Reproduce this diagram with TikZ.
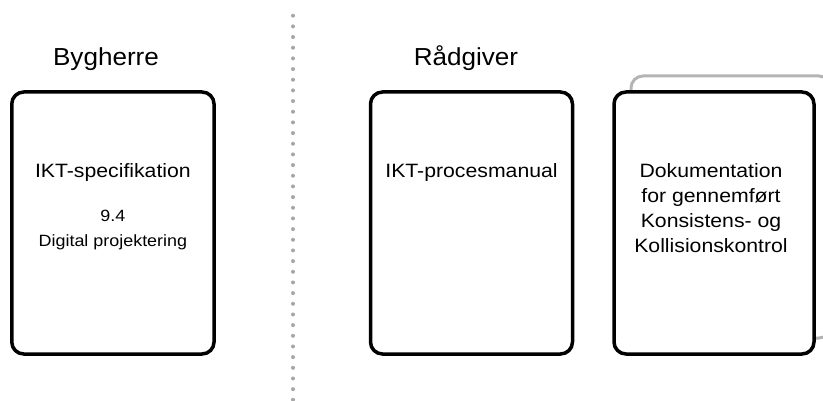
\documentclass[tikz,border=0pt]{standalone}
\usepackage{fontspec}
\setmainfont{Liberation Sans}
\newfontfamily\titlefont[FakeStretch=1.06]{Liberation Sans}
\newfontfamily\boxfont[FakeStretch=1.1]{Liberation Sans}
\definecolor{backline}{HTML}{B4B4B4}
\definecolor{dotgray}{HTML}{A6A6A6}
\tikzset{
  docbox/.style={draw=black, line width=3.5pt, rounded corners=12pt, fill=white,
    inner sep=0pt, minimum height=262pt},
  backbox/.style={draw=backline, line width=3pt, rounded corners=12pt,
    inner sep=0pt, minimum width=200pt, minimum height=262pt},
  divider/.style={draw=dotgray, line width=4pt, line cap=round,
    dash pattern=on 0pt off 10.67pt},
  heading/.style={anchor=base, inner sep=0pt,
    font=\titlefont\fontsize{24.6}{28}\selectfont},
  boxtext/.style={anchor=base, inner sep=0pt, align=center,
    font=\boxfont\fontsize{19.3}{25.3}\selectfont},
  smalltext/.style={anchor=base, inner sep=0pt, align=center,
    font=\boxfont\fontsize{16.3}{25.5}\selectfont},
}
\begin{document}
\begin{tikzpicture}[x=1pt, y=-1pt]
  \useasboundingbox (0,0) rectangle (823,401);

  % dotted divider between the two parties
  \coordinate (divtop) at (293,15.7);
  \coordinate (divbot) at (293,401);
  \draw[divider] (divtop) -- (divbot);

  % headings
  \node[heading] (bygherre) at (106,66) {Bygherre};
  \node[heading] (raadgiver) at (466,66) {Rådgiver};

  % stacked sheet behind the documentation box
  \begin{scope}
    \clip (0,0) rectangle (823,401);
    \node[backbox] (stack) at (731,207) {};
  \end{scope}

  % document boxes
  \node[docbox, minimum width=202.3pt] (spec) at (112.9,223) {};
  \node[docbox, minimum width=202pt] (manual) at (471.5,223) {};
  \node[docbox, minimum width=200pt] (doc) at (714,223) {};

  % box contents (multi-line nodes sit on the baseline of their last line)
  \node[boxtext] (spectitle) at (112.9,178) {IKT-specifikation};
  \node[smalltext] (specref) at (112.9,247) {9.4\\Digital projektering};
  \node[boxtext] (manualtitle) at (471.5,178) {IKT-procesmanual};
  \node[boxtext] (doctitle) at (711,253)
    {Dokumentation\\for gennemført\\Konsistens- og\\Kollisionskontrol};
\end{tikzpicture}
\end{document}
